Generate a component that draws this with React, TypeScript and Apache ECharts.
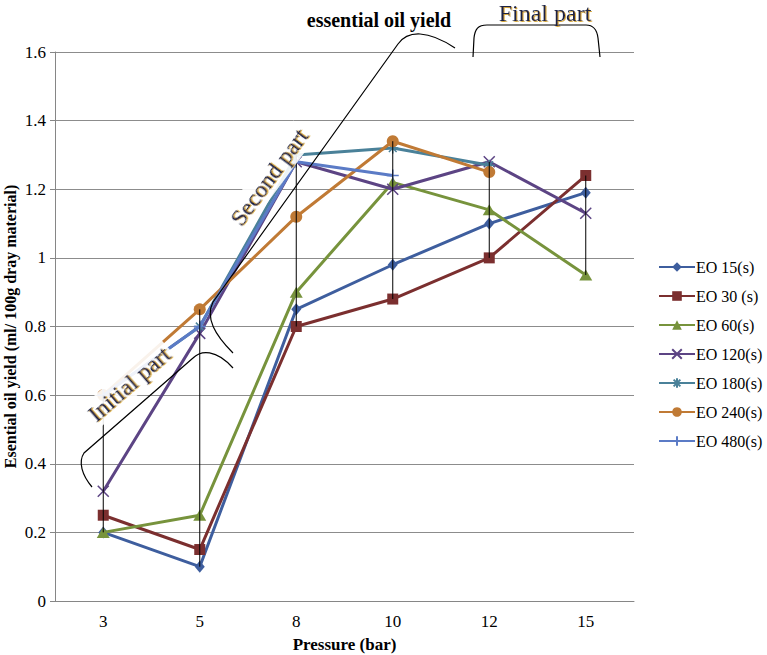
import React, { useEffect, useRef } from 'react';
import * as echarts from 'echarts';

// ---------- data ----------
const categories = ['3', '5', '8', '10', '12', '15'];
const eo15 = [0.2, 0.1, 0.85, 0.98, 1.1, 1.19];
const eo30 = [0.25, 0.15, 0.8, 0.88, 1.0, 1.24];
const eo60 = [0.2, 0.25, 0.9, 1.22, 1.14, 0.95];
const eo120 = [0.32, 0.78, 1.28, 1.2, 1.28, 1.13];
const eo180 = [0.6, 0.8, 1.3, 1.32, 1.27, null];
const eo240 = [0.6, 0.85, 1.12, 1.34, 1.25, null];
const eo480 = [0.6, 0.8, 1.28, 1.24, null, null];
const seriesNames = ['EO 15(s)', 'EO 30 (s)', 'EO 60(s)', 'EO 120(s)', 'EO 180(s)', 'EO 240(s)', 'EO 480(s)'];
const seriesData = [eo15, eo30, eo60, eo120, eo180, eo240, eo480];
const yMin = 0;
const yMax = 1.6;
const yStep = 0.2;
const xTitle = 'Pressure (bar)';
const yTitle = 'Esential oil yield (ml/ 100g dray material)';
const noteTop = 'essential oil yield';
const noteFinal = 'Final part';
const noteSecond = 'Second part';
const noteInitial = 'Initial part';

// ---------- styles ----------
const colors = ['#3E5E9E', '#7B2F2F', '#77933C', '#5C4484', '#4A8199', '#C07A35', '#5B7BC6'];
const symbols = [
  'diamond',
  'rect',
  'triangle',
  'path://M0,0L10,10M10,0L0,10',
  'path://M0,5L10,5M5,0L5,10M1.5,1.5L8.5,8.5M8.5,1.5L1.5,8.5',
  'circle',
  'path://M0,5L10,5M5,0L5,10',
];
const symbolSizes: any[] = [[10, 12], 11, [13, 11], 11, 11, 12, 12];
const stroked = [false, false, false, true, true, false, true];
const SERIF = 'Liberation Serif';

const braceInitial = 'M92,487 C82,475 78,462 84,453 L193,358 C201,350 216,349 233,368';
const braceSecond = 'M233,353 C215,335 205,318 213,302 L398,44 C408,30 428,30 455,48';
const braceFinal = 'M473,57 L474,38 C475,29 478,25 487,25 L586,25 C594,25 597,30 598,38 L600,57';

echarts.graphic.registerShape('braceInitial', echarts.graphic.extendPath(braceInitial, {}));
echarts.graphic.registerShape('braceSecond', echarts.graphic.extendPath(braceSecond, {}));
echarts.graphic.registerShape('braceFinal', echarts.graphic.extendPath(braceFinal, {}));

const labelStyle = (text: string, size: number, bg: boolean) => ({
  text,
  fill: '#1B2444',
  font: `${size}px ${SERIF}`,
  align: 'center',
  verticalAlign: 'middle',
  textShadowColor: 'rgba(210,160,40,0.9)',
  textShadowBlur: 1,
  textShadowOffsetX: 1,
  textShadowOffsetY: 1,
  ...(bg ? { backgroundColor: 'rgba(255,255,255,0.9)', padding: [2, 3] } : {}),
});

export default function App() {
  const ref = useRef<HTMLDivElement>(null);

  useEffect(() => {
    if (!ref.current) return;
    const chart = echarts.init(ref.current, undefined, { renderer: 'svg' });

    const highs = categories.map((_, i) =>
      Math.max(...(seriesData.map((s) => s[i]).filter((v) => v != null) as number[]))
    );
    const lows = categories.map((_, i) =>
      Math.min(...(seriesData.map((s) => s[i]).filter((v) => v != null) as number[]))
    );

    const lineSeries = seriesNames.map((name, k) => ({
      name,
      type: 'line',
      data: seriesData[k],
      symbol: symbols[k],
      symbolSize: symbolSizes[k],
      showSymbol: true,
      connectNulls: false,
      z: 3 + k * 0.01,
      lineStyle: { color: colors[k], width: 3 },
      itemStyle: stroked[k]
        ? { color: colors[k], borderColor: colors[k], borderWidth: 1.5 }
        : { color: colors[k], borderWidth: 0 },
    }));

    const hiLo = {
      name: 'hilo',
      type: 'custom',
      silent: true,
      z: 10,
      data: categories.map((_, i) => [i, highs[i], lows[i]]),
      encode: { x: 0, y: [1, 2] },
      renderItem: (params: any, api: any) => {
        const p1 = api.coord([api.value(0), api.value(1)]);
        const p2 = api.coord([api.value(0), api.value(2)]);
        return {
          type: 'line',
          shape: { x1: p1[0], y1: p1[1], x2: p2[0], y2: p2[1] },
          style: { stroke: '#000', lineWidth: 1 },
        };
      },
    };

    chart.setOption({
      animation: false,
      textStyle: { fontFamily: SERIF },
      grid: { left: 55, right: 133, top: 52, bottom: 54, containLabel: false, outerBoundsMode: 'none' },
      legend: {
        data: seriesNames,
        orient: 'vertical',
        left: 653,
        top: 254,
        itemWidth: 36,
        itemHeight: 12,
        itemGap: 13,
        textStyle: { fontFamily: SERIF, fontSize: 16, color: '#000', padding: [0, 0, 0, -4] },
      },
      xAxis: {
        type: 'category',
        data: categories,
        boundaryGap: true,
        name: xTitle,
        nameLocation: 'middle',
        nameGap: 35,
        nameMoveOverlap: false,
        nameTextStyle: { fontFamily: SERIF, fontSize: 17, fontWeight: 'bold', color: '#000' },
        axisLine: { lineStyle: { color: '#868686', width: 1 } },
        axisTick: { show: false },
        axisLabel: { fontFamily: SERIF, fontSize: 17, color: '#000', margin: 12 },
      },
      yAxis: {
        type: 'value',
        min: yMin,
        max: yMax,
        interval: yStep,
        name: yTitle,
        nameLocation: 'middle',
        nameGap: 37,
        nameMoveOverlap: false,
        nameTextStyle: { fontFamily: SERIF, fontSize: 16, fontWeight: 'bold', color: '#000' },
        axisLine: { show: true, lineStyle: { color: '#868686', width: 1 } },
        axisTick: { show: true, length: 5, lineStyle: { color: '#868686' } },
        axisLabel: { fontFamily: SERIF, fontSize: 17, color: '#000', margin: 9 },
        splitLine: { lineStyle: { color: '#8C8C8C', width: 1 } },
      },
      series: [...lineSeries, hiLo],
      graphic: [
        { type: 'braceInitial', x: 0, y: 0, z: 100, silent: true, style: { fill: 'none', stroke: '#000', lineWidth: 1.2 } },
        { type: 'braceSecond', x: 0, y: 0, z: 100, silent: true, style: { fill: 'none', stroke: '#000', lineWidth: 1.2 } },
        { type: 'braceFinal', x: 0, y: 0, z: 100, silent: true, style: { fill: 'none', stroke: '#000', lineWidth: 1.2 } },
        {
          type: 'text',
          x: 379,
          y: 20,
          z: 100,
          style: { text: noteTop, fill: '#000', font: `bold 20px ${SERIF}`, align: 'center', verticalAlign: 'middle' },
        },
        { type: 'text', x: 545, y: 13, z: 100, style: labelStyle(noteFinal, 24, false) },
        { type: 'text', x: 269, y: 177, z: 100, rotation: (53.5 * Math.PI) / 180, style: labelStyle(noteSecond, 24, true) },
        { type: 'text', x: 129, y: 384, z: 100, rotation: (41 * Math.PI) / 180, style: labelStyle(noteInitial, 24, true) },
      ],
    });

    return () => chart.dispose();
  }, []);

  return (
    <div
      ref={ref}
      style={{ position: 'absolute', left: 0, top: 0, width: 767, height: 655 }}
    />
  );
}
